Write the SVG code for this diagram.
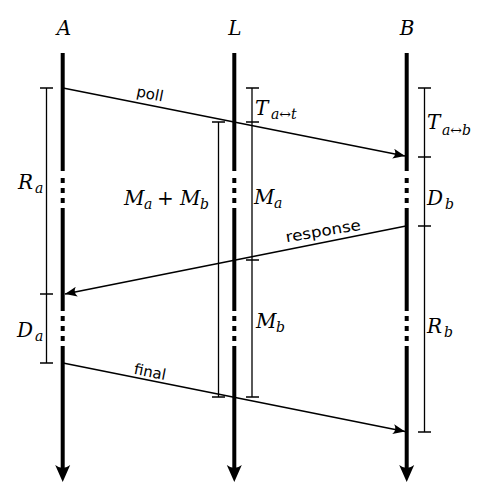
<svg xmlns="http://www.w3.org/2000/svg" width="479" height="501" viewBox="0 0 479 501">
<style>
.life{fill:#000}
.msg{stroke:#000;stroke-width:1.6;fill:none}
.br{stroke:#000;stroke-width:1.3;fill:none}
.m{font-family:'DejaVu Serif',serif;font-style:italic;font-size:20px;fill:#000}
.s{font-size:14px}
.up{font-style:normal}
.lbl{font-family:'DejaVu Sans',sans-serif;font-size:15px;fill:#000}
</style>
<defs>
<marker id="ah" viewBox="0 0 12 10" refX="12" refY="5" markerWidth="12" markerHeight="10" markerUnits="userSpaceOnUse" orient="auto">
<path d="M12,5 L0,0 Q4,5 0,10 Z" fill="#000"/>
</marker>
<g id="lifeline">
<rect x="-2" y="53" width="4" height="118"/>
<rect x="-2" y="178" width="4" height="5"/>
<rect x="-2" y="188" width="4" height="5"/>
<rect x="-2" y="198" width="4" height="5"/>
<rect x="-2" y="208" width="4" height="103"/>
<rect x="-2" y="316" width="4" height="5"/>
<rect x="-2" y="326" width="4" height="5"/>
<rect x="-2" y="336" width="4" height="5"/>
<rect x="-2" y="346" width="4" height="124"/>
<path d="M0,482 L-7.5,465 Q0,471 7.5,465 Z"/>
</g>
</defs>
<g id="node-A">
<text class="m" x="64" y="35" text-anchor="middle">A</text>
<use href="#lifeline" x="62.7" class="life"/>
</g>
<g id="node-L">
<text class="m" x="235" y="35" text-anchor="middle">L</text>
<use href="#lifeline" x="234.3" class="life"/>
</g>
<g id="node-B">
<text class="m" x="407" y="35" text-anchor="middle">B</text>
<use href="#lifeline" x="406.7" class="life"/>
</g>
<g id="connectors">
<line class="msg" x1="63" y1="88" x2="405" y2="156" marker-end="url(#ah)"/>
<line class="msg" x1="406" y1="226" x2="65" y2="294" marker-end="url(#ah)"/>
<line class="msg" x1="63" y1="363" x2="405" y2="431.5" marker-end="url(#ah)"/>
<text class="lbl" x="149" y="99" text-anchor="middle" transform="rotate(11.2 149 99)">poll</text>
<text class="lbl" x="324" y="236" text-anchor="middle" textLength="76" lengthAdjust="spacingAndGlyphs" transform="rotate(-9.5 324 236)">response</text>
<text class="lbl" x="149" y="377" text-anchor="middle" transform="rotate(11.2 149 377)">final</text>
</g>
<g id="measure-Ra-Da">
<path class="br" d="M46.5,88 V363 M40,88 H53 M40,294 H53 M40,363 H53"/>
<text class="m" x="18" y="189">R<tspan class="s" x="35" y="193">a</tspan></text>
<text class="m" x="17" y="337">D<tspan class="s" x="35" y="341">a</tspan></text>
</g>
<g id="measure-MaMb">
<path class="br" d="M218.5,122 V397 M212,122 H225 M212,397 H225"/>
<text class="m" x="124" y="205">M<tspan class="s" x="144" y="209">a</tspan><tspan class="up" x="157" y="205">+</tspan><tspan x="180" y="205">M</tspan><tspan class="s" x="200" y="209">b</tspan></text>
</g>
<g id="measure-L">
<path class="br" d="M252,88 V397 M246,88 H259 M246,122 H259 M246,260 H259 M246,397 H259"/>
<text class="m" x="255" y="115">T<tspan class="s" x="271" y="119">a↔t</tspan></text>
<text class="m" x="254" y="204">M<tspan class="s" x="274" y="208">a</tspan></text>
<text class="m" x="256" y="328">M<tspan class="s" x="276" y="332">b</tspan></text>
</g>
<g id="measure-B">
<path class="br" d="M424.5,88 V432 M418,88 H431 M418,157 H431 M418,226 H431 M418,432 H431"/>
<text class="m" x="427" y="129">T<tspan class="s" x="442" y="135">a↔b</tspan></text>
<text class="m" x="427" y="205">D<tspan class="s" x="445" y="209">b</tspan></text>
<text class="m" x="427" y="333">R<tspan class="s" x="444" y="337">b</tspan></text>
</g>
</svg>
